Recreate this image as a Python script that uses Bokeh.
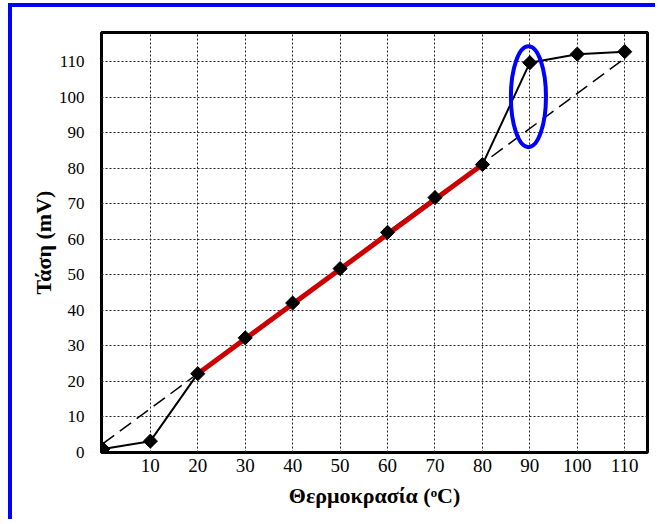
from bokeh.plotting import figure
from bokeh.models import Range1d, FixedTicker
from bokeh.embed import file_html
from bokeh.resources import INLINE
import math

# ---- data ----
temps = [0, 10, 20, 30, 40, 50, 60, 70, 80, 90, 100, 110]
volts = [1.0, 3.2, 22.2, 32.3, 42.1, 51.8, 62.0, 71.8, 81.1, 109.8, 112.2, 112.9]
fit_x = [20, 80]
fit_y = [22.2, 81.1]
trend_x = [0, 110]
trend_y = [2.5, 111.0]
ring_x = [89.7]
ring_y = [100.2]
ring_w = [7.4]
ring_h = [28.4]
x_ticks = [10, 20, 30, 40, 50, 60, 70, 80, 90, 100, 110]
y_ticks = [0, 10, 20, 30, 40, 50, 60, 70, 80, 90, 100, 110]

FONT = "Liberation Serif"

p = figure(width=647, height=516, output_backend="svg", toolbar_location=None,
           x_range=Range1d(-0.3, 114.8), y_range=Range1d(0, 118.3),
           min_border_left=89, min_border_right=12, min_border_top=25, min_border_bottom=71)
p.styles = {"border-top": "4px solid #0000ff", "border-left": "4px solid #0000ff",
            "margin-top": "3px", "margin-left": "8px"}

p.background_fill_color = "white"
p.border_fill_color = "white"
p.outline_line_color = "black"
p.outline_line_width = 3

# grids
p.xgrid.ticker = FixedTicker(ticks=x_ticks)
p.ygrid.ticker = FixedTicker(ticks=y_ticks)
for g in (p.xgrid, p.ygrid):
    g.grid_line_color = "#222222"
    g.grid_line_dash = "2 2"
    g.grid_line_width = 1

# axes
p.xaxis.ticker = FixedTicker(ticks=x_ticks)
p.yaxis.ticker = FixedTicker(ticks=y_ticks)
for ax in (p.xaxis, p.yaxis):
    ax.axis_line_color = None
    ax.major_tick_line_color = None
    ax.minor_tick_line_color = None
    ax.major_label_text_font = FONT
    ax.major_label_text_color = "black"
    ax.axis_label_text_font = FONT
    ax.axis_label_text_font_style = "bold"
    ax.axis_label_text_color = "black"
    ax.axis_label_text_font_size = "22px"
p.xaxis.major_label_text_font_size = "19px"
p.yaxis.major_label_text_font_size = "17px"
p.xaxis.major_label_standoff = 0
p.yaxis.major_label_standoff = 11
p.xaxis.axis_label = "Θερμοκρασία (ᵒC)"
p.yaxis.axis_label = "Τάση (mV)"
p.xaxis.axis_label_standoff = 8
p.yaxis.axis_label_standoff = 0

# series
p.line(trend_x, trend_y, line_color="black", line_width=1.5, line_dash="14 7")
p.line(temps, volts, line_color="black", line_width=2)
p.line(fit_x, fit_y, line_color="#cc0000", line_width=5)
p.scatter(temps, volts, marker="square", angle=math.pi / 4, size=10,
          fill_color="black", line_color="black")
p.ellipse(ring_x, ring_y, width=ring_w, height=ring_h, fill_color=None,
          line_color="#0000ff", line_width=4)

open("out.html", "w").write(file_html(p, INLINE))
